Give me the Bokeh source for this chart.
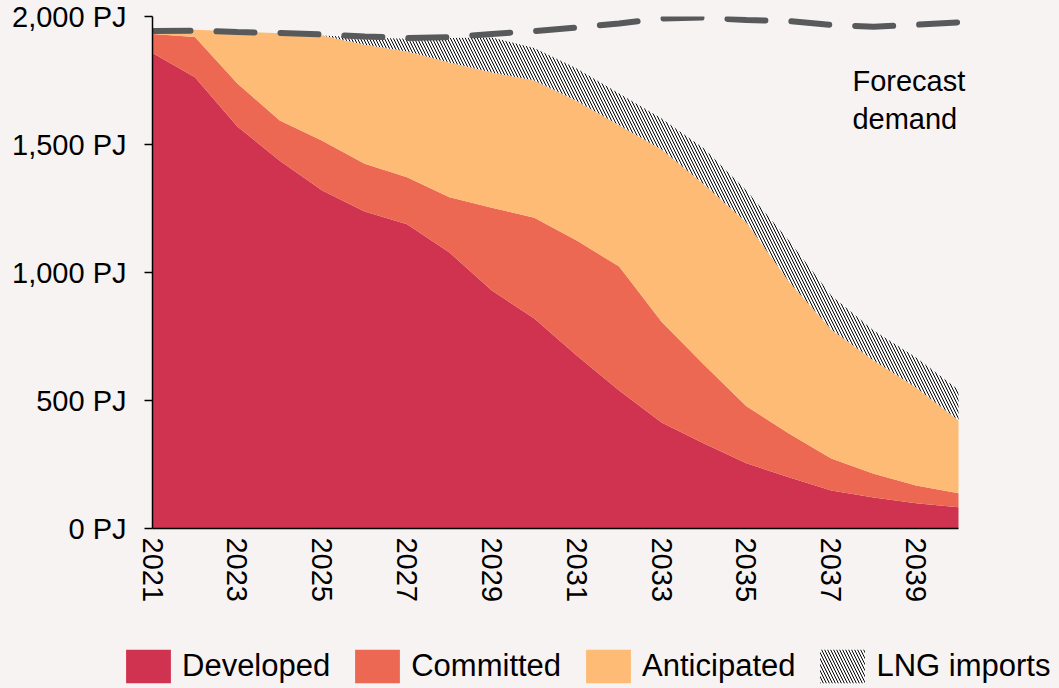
import numpy as np
from bokeh.plotting import figure
from bokeh.layouts import column
from bokeh.models import FixedTicker, Legend, LegendItem, Range1d
from bokeh.embed import file_html
from bokeh.resources import INLINE
from bokeh.core.properties import value

# ---- data (PJ) ----
years = list(range(2021, 2041))
developed = [1857, 1763, 1570, 1437, 1320, 1238, 1188, 1078, 930, 820,
             676, 539, 414, 332, 255, 200, 148, 121, 99, 83]
committed = [75, 157, 168, 157, 195, 187, 184, 216, 323, 394,
             449, 484, 394, 308, 223, 171, 125, 93, 69, 55]
anticipated = [8, 28, 203, 341, 411, 465, 491, 526, 528, 536,
               545, 552, 672, 705, 717, 594, 504, 442, 383, 284]
lng_imports = [0, 0, 0, 0, 0, 28, 50, 96, 137, 127,
               127, 124, 122, 139, 125, 160, 133, 117, 117, 120]
forecast_demand = [1943, 1945, 1939, 1936, 1930, 1922, 1916, 1919, 1932, 1943,
                   1957, 1973, 1992, 1996, 1986, 1982, 1967, 1960, 1968, 1977]

series_names = ["Developed", "Committed", "Anticipated", "LNG imports"]
y_ticks = [0, 500, 1000, 1500, 2000]
y_tick_labels = ["0 PJ", "500 PJ", "1,000 PJ", "1,500 PJ", "2,000 PJ"]
x_ticks = list(range(2021, 2040, 2))

BG = "#f7f3f2"
FONT = "Liberation Sans"

W = 1059
MAIN_H, LEG_H = 610, 78
FRAME_L, DATA_R, FRAME_R, FRAME_T, FRAME_B = 152, 958, 1027, 16, 528
x = np.array(years)
px_per_year = (DATA_R - FRAME_L) / (years[-1] - years[0])
x_end = years[0] + (FRAME_R - FRAME_L) / px_per_year

layers = [np.array(developed), np.array(committed), np.array(anticipated), np.array(lng_imports)]
tops = np.cumsum(layers, axis=0)
bottoms = np.vstack([np.zeros(len(years)), tops[:-1]])

styles = [
    dict(fill_color="#d0334f"),
    dict(fill_color="#ec6852"),
    dict(fill_color="#fdbb75"),
    dict(fill_color="white", hatch_pattern="\\", hatch_color="black", hatch_scale=6, hatch_weight=1),
]

p = figure(width=W, height=MAIN_H, x_range=Range1d(years[0], x_end), y_range=Range1d(0, 2000),
           output_backend="svg", toolbar_location=None,
           min_border_left=FRAME_L, min_border_right=W - FRAME_R, min_border_top=FRAME_T,
           min_border_bottom=MAIN_H - FRAME_B,
           background_fill_color=BG, border_fill_color=BG, outline_line_color=None)
p.frame_align = False
p.grid.visible = False

for b, t, st in zip(bottoms, tops, styles):
    p.varea(x=x, y1=b, y2=t, **st)

p.line(x, forecast_demand, line_color="#58595b", line_width=6, line_dash="38 26", line_cap="round")

p.text(x=[2037.5], y=[1812], text=["Forecast\ndemand"], text_font=value(FONT), text_font_size="29px",
       text_baseline="top", text_align="left", text_color="black", text_line_height=1.2)

# axes
p.xaxis.bounds = (years[0], years[-1])
p.xaxis.ticker = FixedTicker(ticks=x_ticks)
p.xaxis.major_label_orientation = -np.pi / 2
p.xaxis.major_tick_out = 0
p.xaxis.major_tick_in = 0
p.xaxis.minor_tick_line_color = None
p.xaxis.major_label_standoff = 9
p.yaxis.ticker = FixedTicker(ticks=y_ticks)
p.yaxis.major_label_overrides = {t: l for t, l in zip(y_ticks, y_tick_labels)}
p.yaxis.major_tick_out = 8
p.yaxis.major_tick_in = 0
p.yaxis.minor_tick_line_color = None
p.yaxis.major_label_standoff = 18
for ax in (p.xaxis, p.yaxis):
    ax.axis_line_color = "black"
    ax.axis_line_width = 1.5
    ax.major_tick_line_color = "black"
    ax.major_tick_line_width = 1.5
    ax.major_label_text_font = FONT
    ax.major_label_text_font_size = "29px"
    ax.major_label_text_color = "black"

# ---- legend strip (separate figure beneath the chart) ----
lf = figure(width=W, height=LEG_H, x_range=Range1d(0, 1), y_range=Range1d(0, 1),
            output_backend="svg", toolbar_location=None,
            x_axis_location=None, y_axis_location=None,
            min_border_left=0, min_border_right=0, min_border_top=0, min_border_bottom=0,
            background_fill_color=BG, border_fill_color=BG, outline_line_color=None)
lf.frame_align = False
lf.grid.visible = False
items = []
for name, b, t, st in zip(series_names, bottoms, tops, styles):
    r = lf.varea(x=x, y1=b, y2=t, **st)   # off-range: only used for legend swatches
    items.append(LegendItem(label=name, renderers=[r]))

legend = Legend(items=items, location=(120, 1), orientation="horizontal",
                glyph_width=56, glyph_height=42, label_standoff=6, spacing=19,
                padding=0, margin=0, border_line_alpha=0, background_fill_alpha=0,
                label_text_font=FONT, label_text_font_size="31px", label_text_color="black")
lf.add_layout(legend)

layout = column(p, lf, spacing=0, styles={"background-color": BG})
open("out.html", "w").write(file_html(layout, INLINE))
